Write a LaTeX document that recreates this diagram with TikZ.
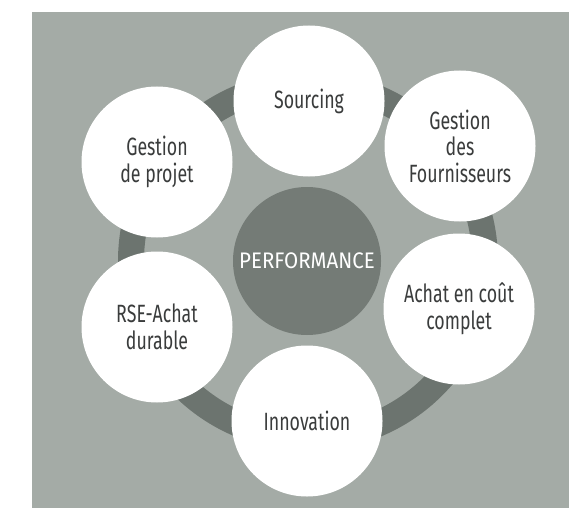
\documentclass[tikz,border=0pt]{standalone}
\usepackage{fontspec}
\setmainfont[FakeStretch=0.71]{Fira Sans}
\newfontfamily\corefont[FakeStretch=0.91]{Fira Sans}
\definecolor{panelgray}{RGB}{164,171,166}
\definecolor{ringgray}{RGB}{108,116,111}
\definecolor{coregray}{RGB}{116,123,118}
\definecolor{labelgray}{RGB}{58,60,60}
\tikzset{
  topic/.style={circle, fill=white, minimum size=151pt, inner sep=0pt,
    align=center, text=labelgray, font=\fontsize{25}{26.5}\selectfont},
  core/.style={circle, fill=coregray, minimum size=148pt, inner sep=0pt,
    text=white, font=\corefont\fontsize{22.5}{25}\selectfont},
  band/.style={draw=ringgray, line width=26pt}
}
\begin{document}
\begin{tikzpicture}[x=1pt,y=-1pt]
\useasboundingbox (0,0) rectangle (569,508);
% panel
\fill[panelgray] (32,12) rectangle (569,508);
% ring linking the topics
\coordinate (hub) at (308,261);
\draw[band] (hub) circle [radius=177pt];
% centre
\node[core] (perf) at (307,261) {PERFORMANCE};
% topics around the ring
\node[topic] (sourcing) at (309,101) {Sourcing};
\node[topic] (fournisseurs) at (460,146) {Gestion\\des\\Fournisseurs};
\node[topic] (achat) at (459,309) {Achat en coût\\complet};
\node[topic] (innovation) at (307,421) {Innovation};
\node[topic] (rse) at (157,327) {RSE-Achat\\durable};
\node[topic] (projet) at (157,162) {Gestion\\de projet};
\end{tikzpicture}
\end{document}
